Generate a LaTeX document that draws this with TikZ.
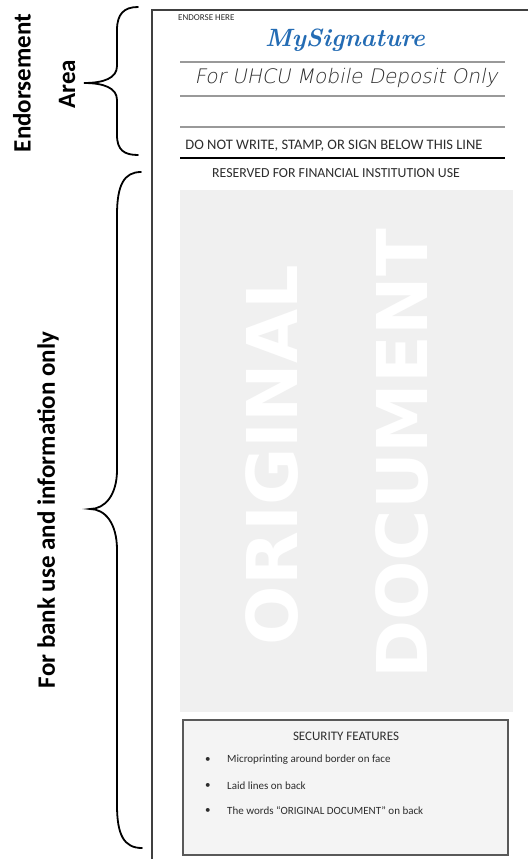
\documentclass[tikz,border=0pt]{standalone}
\usepackage{fontspec}
\newfontfamily\calfont{Carlito}
\newfontfamily\handfont[FakeSlant=0.2]{DejaVu Sans ExtraLight}
\newfontfamily\markfont{DejaVu Sans}
\definecolor{sigblue}{RGB}{36,108,180}
\definecolor{panelgray}{RGB}{240,240,240}
\definecolor{boxgray}{RGB}{244,244,244}
\definecolor{inkgray}{RGB}{45,45,45}
\tikzset{
  sidelabel/.style={rotate=90, inner sep=0pt, font=\calfont\bfseries\fontsize{25}{30}\selectfont},
  formtext/.style={text=inkgray, inner sep=0pt, font=\calfont\fontsize{14.5}{17}\selectfont},
  writeline/.style={draw=gray!80, line width=1.1pt},
  bracepath/.style={line width=1.8pt, line cap=round},
  wmark/.style={rotate=90, text=white, inner sep=0pt, font=\markfont\bfseries\fontsize{70}{80}\selectfont},
  bulletitem/.style={anchor=west, text=inkgray, inner sep=0pt, font=\calfont\fontsize{11}{13}\selectfont}
}
\begin{document}
\begin{tikzpicture}[x=1pt, y=-1pt]
\useasboundingbox (0,0) rectangle (528,859);
\fill[white] (0,0) rectangle (528,859);
% bank area with watermark
\fill[panelgray] (180,190) rectangle (513,712);
\node[wmark] (orig) at (272,455){ORIGINAL};
\node[wmark] (docu) at (402,454){DOCUMENT};
\draw[line width=1.3pt, draw=black!65, fill=boxgray] (183,720) rectangle (508,855);
\node[formtext, font=\calfont\fontsize{13}{15}\selectfont] (sectitle) at (346,736){SECURITY FEATURES};
\node[bulletitem] (bul1) at (205,760){\textbullet};
\node[bulletitem] (item1) at (227,760){Microprinting around border on face};
\node[bulletitem] (bul2) at (205,786){\textbullet};
\node[bulletitem] (item2) at (227,786){Laid lines on back};
\node[bulletitem] (bul3) at (205,811){\textbullet};
\node[bulletitem] (item3) at (227,811){The words “ORIGINAL DOCUMENT” on back};
% endorsement area
\node[formtext, anchor=west, font=\calfont\fontsize{9}{11}\selectfont] (endhere) at (178,18){ENDORSE HERE};
\node[text=sigblue, inner sep=0pt, font=\rmfamily\bfseries\itshape\fontsize{25}{28}\selectfont] (sig) at (345,40){MySignature};
\draw[writeline] (180,62) -- (505,62);
\node[text=inkgray, inner sep=0pt, font=\handfont\fontsize{20}{24}\selectfont] (mobile) at (346,78){For UHCU Mobile Deposit Only};
\draw[writeline] (180,96) -- (505,96);
\draw[writeline] (180,127) -- (505,127);
\node[formtext] (donot) at (334,146){DO NOT WRITE, STAMP, OR SIGN BELOW THIS LINE};
\draw[line width=2pt] (180,158) -- (505,158);
\node[formtext, font=\calfont\fontsize{13.8}{16}\selectfont] (reserved) at (336,173){RESERVED FOR FINANCIAL INSTITUTION USE};
% check edge
\draw[line width=2.2pt, draw=black!75] (528,10) -- (152,10) -- (152,859);
% braces and side labels
\draw[bracepath] (138,7) .. controls (124,7) and (117,14) .. (117,30) -- (117,66) .. controls (117,78) and (104,83) .. (84,83) .. controls (104,83) and (117,88) .. (117,100) -- (117,135) .. controls (117,150) and (124,155) .. (138,155);
\draw[bracepath] (141,172) .. controls (124,172) and (117,185) .. (117,215) -- (117,470) .. controls (117,495) and (105,509) .. (90,509) .. controls (105,509) and (117,523) .. (117,550) -- (117,805) .. controls (117,835) and (124,848) .. (142,848);
\node[sidelabel] (endorse) at (22,83){Endorsement};
\node[sidelabel] (area) at (67,84){Area};
\node[sidelabel] (bankuse) at (48,510){For bank use and information only};
\end{tikzpicture}
\end{document}
